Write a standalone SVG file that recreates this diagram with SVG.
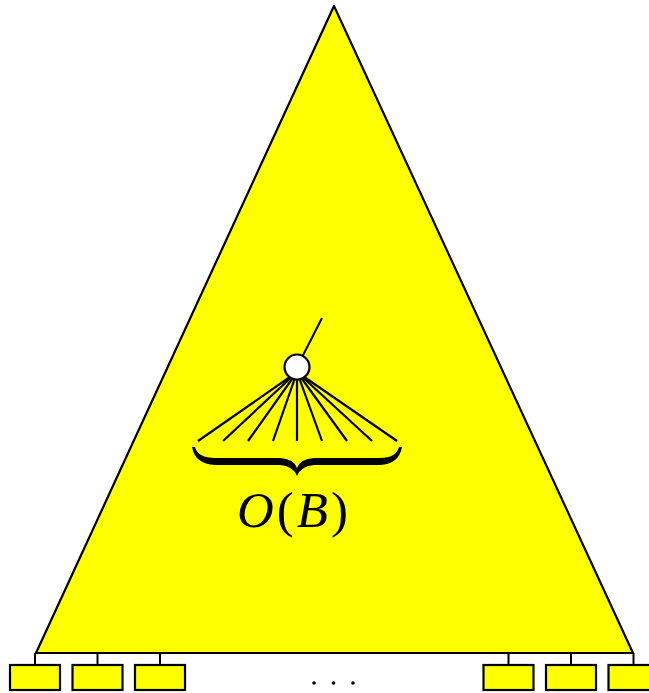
<svg xmlns="http://www.w3.org/2000/svg" width="649" height="693" viewBox="0 0 649 693">
<style>
.tri{fill:#ffff00;stroke:#000;stroke-width:2.2;stroke-linejoin:round}
.leaf{fill:#ffff00;stroke:#000;stroke-width:2.2}
.ln{stroke:#000;stroke-width:2;fill:none}
.fan{stroke:#000;stroke-width:2.2;fill:none}
.math{font-family:"Liberation Serif","DejaVu Serif",serif;font-size:51px;fill:#000;letter-spacing:3px}
</style>
<g id="tree">
<polygon class="tri" points="334,6 36,653 633,653"/>
</g>
<g id="connectors">
<line class="ln" x1="35" y1="653" x2="35" y2="665"/>
<line class="ln" x1="97.5" y1="653" x2="97.5" y2="665"/>
<line class="ln" x1="160" y1="653" x2="160" y2="665"/>
<line class="ln" x1="508.5" y1="653" x2="508.5" y2="665"/>
<line class="ln" x1="571" y1="653" x2="571" y2="665"/>
<line class="ln" x1="633.5" y1="653" x2="633.5" y2="665"/>
<line class="ln" x1="297" y1="367" x2="322" y2="318"/>
<g class="fan">
<line x1="297" y1="372" x2="198" y2="441"/>
<line x1="297" y1="372" x2="223" y2="441"/>
<line x1="297" y1="372" x2="248" y2="441"/>
<line x1="297" y1="372" x2="273" y2="441"/>
<line x1="297" y1="372" x2="297" y2="441"/>
<line x1="297" y1="372" x2="322" y2="441"/>
<line x1="297" y1="372" x2="347" y2="441"/>
<line x1="297" y1="372" x2="372" y2="441"/>
<line x1="297" y1="372" x2="397" y2="441"/>
</g>
</g>
<g id="node">
<circle cx="297" cy="367" r="12.5" fill="#fff" stroke="#000" stroke-width="2.2"/>
</g>
<g id="brace">
<path d="M192,447 Q195,464 215,465 L280,465 Q293,466 297,476 Q301,466 314,465 L380,465 Q399,464 402,447 L399,447 Q396,458 380,458 L314,458 Q300,459 297,468 Q294,459 280,458 L215,458 Q198,458 195,447 Z" fill="#000"/>
</g>
<g id="label">
<text class="math" x="294" y="527" text-anchor="middle"><tspan font-style="italic">O</tspan>(<tspan font-style="italic">B</tspan>)</text>
</g>
<g id="leaves">
<rect class="leaf" x="10" y="665" width="50" height="25"/>
<rect class="leaf" x="72.5" y="665" width="50" height="25"/>
<rect class="leaf" x="135" y="665" width="50" height="25"/>
<rect class="leaf" x="483.5" y="665" width="50" height="25"/>
<rect class="leaf" x="546" y="665" width="50" height="25"/>
<rect class="leaf" x="608.5" y="665" width="50" height="25"/>
</g>
<g id="dots" fill="#000">
<circle cx="314" cy="683" r="1.8"/>
<circle cx="333.5" cy="683" r="1.8"/>
<circle cx="353" cy="683" r="1.8"/>
</g>
</svg>
